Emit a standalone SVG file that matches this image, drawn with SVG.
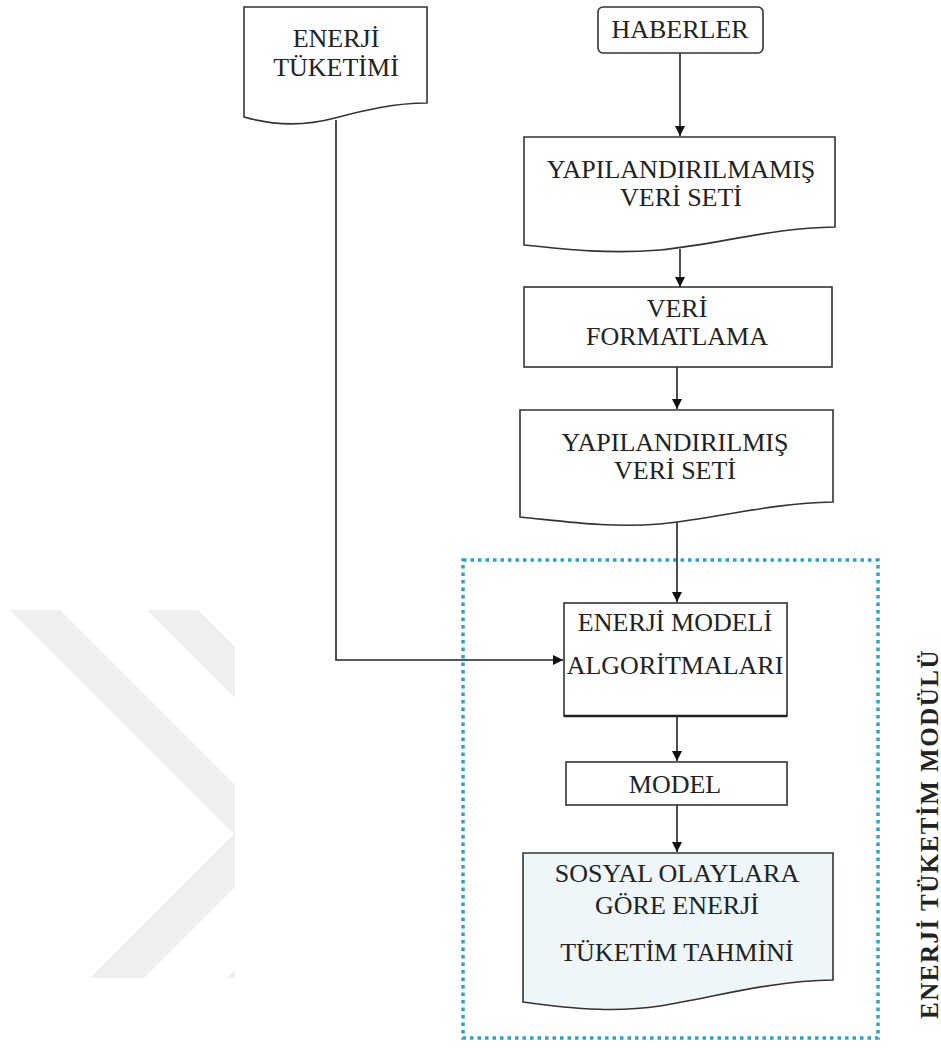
<svg xmlns="http://www.w3.org/2000/svg" width="941" height="1048" viewBox="0 0 941 1048">
<style>
.t{font-family:"Liberation Serif","Times New Roman",serif;font-size:26px;fill:#222;text-anchor:middle}
.b{fill:#fff;stroke:#333;stroke-width:1.6}
.c{fill:none;stroke:#222;stroke-width:1.6}
.wm{fill:#efefef}
</style>
<defs>
<marker id="ah" viewBox="0 0 10 10" refX="10" refY="5" markerWidth="10" markerHeight="10" markerUnits="userSpaceOnUse" orient="auto">
<path d="M0,0 L10,5 L0,10 Z" fill="#111"/>
</marker>
<clipPath id="wmclip"><rect x="0" y="610" width="235" height="368"/></clipPath>
</defs>
<rect width="941" height="1048" fill="#fff"/>
<g id="watermark" clip-path="url(#wmclip)">
<polygon class="wm" points="10,610 60,610 286,836 144,978 90,978 234,834"/>
<polygon class="wm" points="147,610 198,610 422,834 278,978 227,978 371,834"/>
</g>
<g id="module-frame">
<rect x="463" y="560" width="415" height="478" fill="none" stroke="#29a3cf" stroke-width="3.5" stroke-dasharray="3.5 4"/>
</g>
<g id="connectors">
<line class="c" x1="680" y1="53" x2="680" y2="136" marker-end="url(#ah)"/>
<line class="c" x1="680" y1="249" x2="680" y2="287" marker-end="url(#ah)"/>
<line class="c" x1="677" y1="367" x2="677" y2="409" marker-end="url(#ah)"/>
<line class="c" x1="677" y1="522" x2="677" y2="602" marker-end="url(#ah)"/>
<polyline class="c" points="336,120 336,660 563,660" marker-end="url(#ah)"/>
<line class="c" x1="677" y1="717" x2="677" y2="761" marker-end="url(#ah)"/>
<line class="c" x1="677" y1="805" x2="677" y2="852" marker-end="url(#ah)"/>
</g>
<g id="enerji-tuketimi">
<path class="b" d="M244,7 H427 V103 C395,103 365,110 335,118 C305,126 275,126 244,117 Z"/>
<text class="t" x="336" y="47">ENERJİ</text>
<text class="t" x="336" y="76">TÜKETİMİ</text>
</g>
<g id="haberler">
<rect class="b" x="598" y="7" width="165" height="46" rx="5"/>
<text class="t" x="680" y="38">HABERLER</text>
</g>
<g id="yapilandirilmamis">
<path class="b" d="M524,137 H835 V227 C770,228 720,244 660,250 C610,254 570,250 524,245 Z"/>
<text class="t" x="681" y="178" font-size="27.4">YAPILANDIRILMAMIŞ</text>
<text class="t" x="681" y="206" font-size="27.4">VERİ SETİ</text>
</g>
<g id="veri-formatlama">
<rect class="b" x="524" y="287" width="308" height="80" stroke-width="2.6" stroke="#222"/>
<text class="t" x="677" y="317" font-size="26.6">VERİ</text>
<text class="t" x="677" y="345" font-size="26.6">FORMATLAMA</text>
</g>
<g id="yapilandirilmis">
<path class="b" d="M520,410 H833 V502 C770,503 720,518 660,524 C610,528 570,522 520,517 Z"/>
<text class="t" x="675" y="451" font-size="27.4">YAPILANDIRILMIŞ</text>
<text class="t" x="675" y="479" font-size="27.4">VERİ SETİ</text>
</g>
<g id="enerji-modeli">
<rect class="b" x="564" y="603" width="223" height="113"/>
<line x1="564" y1="716" x2="787" y2="716" stroke="#222" stroke-width="2.4"/>
<text class="t" x="675" y="631" font-size="24.5">ENERJİ MODELİ</text>
<text class="t" x="675" y="674" font-size="24.5">ALGORİTMALARI</text>
</g>
<g id="model">
<rect class="b" x="566" y="762" width="221" height="43" stroke-width="2" stroke="#222"/>
<text class="t" x="675" y="793">MODEL</text>
</g>
<g id="tahmin">
<path class="b" d="M523,853 H833 V980 C770,981 720,996 660,1006 C620,1012 580,1010 523,1002 Z" style="fill:#eef6fa"/>
<text class="t" x="677" y="882" font-size="26.8">SOSYAL OLAYLARA</text>
<text class="t" x="677" y="914" font-size="26.8">GÖRE ENERJİ</text>
<text class="t" x="677" y="961" font-size="26.8">TÜKETİM TAHMİNİ</text>
</g>
<g id="module-label">
<text x="929" y="834" transform="rotate(-90 929 834)" text-anchor="middle" dominant-baseline="central" font-family="'Liberation Serif','Times New Roman',serif" font-weight="bold" font-size="25" letter-spacing="1.5" fill="#222">ENERJİ TÜKETİM MODÜLÜ</text>
</g>
</svg>
